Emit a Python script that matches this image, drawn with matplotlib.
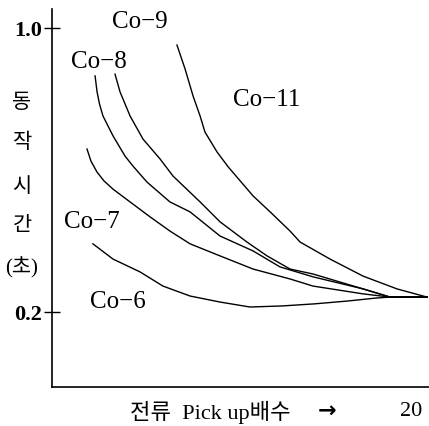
import matplotlib
matplotlib.use("Agg")
import matplotlib.pyplot as plt

plt.rcParams['font.family'] = ['Liberation Serif', 'Noto Sans CJK KR', 'DejaVu Sans']

# operating time curves (x: pick-up multiple, y: time in s)
co9_x = [6.96, 7.41, 7.86, 8.25, 8.52, 9.19, 9.81, 11.20, 12.15, 13.26, 13.82, 15.49, 17.33, 19.22, 20.89]
co9_y = [0.952, 0.885, 0.808, 0.752, 0.707, 0.651, 0.609, 0.527, 0.482, 0.428, 0.397, 0.349, 0.301, 0.265, 0.242]

coB_x = [3.51, 3.79, 4.35, 5.07, 6.02, 6.74, 8.25, 9.36, 10.86, 11.98, 13.26, 14.54, 17.33, 18.83, 20.89]
coB_y = [0.870, 0.820, 0.752, 0.687, 0.631, 0.583, 0.510, 0.454, 0.397, 0.358, 0.321, 0.307, 0.265, 0.242, 0.242]

co8_x = [2.40, 2.51, 2.65, 2.84, 3.40, 4.07, 4.51, 5.29, 6.57, 7.69, 9.36, 11.20, 12.70, 14.54, 17.33, 18.83, 20.89]
co8_y = [0.865, 0.820, 0.785, 0.752, 0.696, 0.639, 0.611, 0.566, 0.510, 0.482, 0.414, 0.372, 0.327, 0.299, 0.265, 0.242, 0.242]

co7_x = [1.95, 2.17, 2.51, 2.90, 3.40, 4.35, 5.46, 6.57, 7.69, 9.36, 11.20, 13.26, 14.54, 17.33, 18.83, 20.89]
co7_y = [0.659, 0.625, 0.594, 0.569, 0.546, 0.510, 0.468, 0.428, 0.392, 0.358, 0.321, 0.293, 0.273, 0.251, 0.242, 0.242]

co6_x = [2.28, 3.40, 4.90, 6.18, 7.69, 9.36, 11.03, 12.81, 14.65, 16.49, 17.99, 18.83, 20.89]
co6_y = [0.392, 0.349, 0.313, 0.273, 0.245, 0.228, 0.214, 0.217, 0.223, 0.231, 0.239, 0.242, 0.242]

labels = ["Co\u22129", "Co\u22128", "Co\u221211", "Co\u22127", "Co\u22126"]
label_x = [4.90, 2.62, 11.98, 2.23, 3.68]
label_y = [1.020, 0.907, 0.800, 0.456, 0.231]

yticks = [0.2, 1.0]
ytick_labels = ["0.2", "1.0"]
ylabel_chars = ["동", "작", "시", "간", "(초)"]

fig = plt.figure(figsize=(4.29, 4.27), dpi=100)
ax = fig.add_axes([52 / 429, 39 / 427, 377 / 429, 378 / 427])

for xs, ys in [(co9_x, co9_y), (coB_x, coB_y), (co8_x, co8_y), (co7_x, co7_y), (co6_x, co6_y)]:
    ax.plot(xs, ys, color='black', lw=1.0)

for t, x, y in zip(labels, label_x, label_y):
    ax.text(x, y, t, fontsize=18, ha='center', va='center')

ax.set_xlim(0, 21.0)
ax.set_ylim(-0.0113, 1.0535)
ax.spines['top'].set_visible(False)
ax.spines['right'].set_visible(False)
ax.spines['left'].set_linewidth(1.2)
ax.spines['bottom'].set_linewidth(1.2)
ax.set_xticks([])
ax.set_yticks(yticks)
ax.set_yticklabels(ytick_labels, fontsize=16, fontweight='bold')
ax.tick_params(axis='y', direction='inout', length=12, width=1.0, pad=1)

# stacked vertical y label
ys_px = [103, 143, 187, 227, 268]
for ch, py in zip(ylabel_chars, ys_px):
    fig.text(22 / 429, 1 - py / 427, ch, fontsize=15, ha='center', va='center')

fig.text(130 / 429, 1 - 412 / 427, "전류  Pick up배수", fontsize=16, ha='left', va='center')
fig.text(327 / 429, 1 - 411 / 427, "\u2192", fontsize=16, ha='center', va='center',
         family='DejaVu Sans', fontweight='bold')
fig.text(411 / 429, 1 - 412 / 427, "20", fontsize=16, ha='center', va='center')

fig.savefig("out.png", dpi=100)
